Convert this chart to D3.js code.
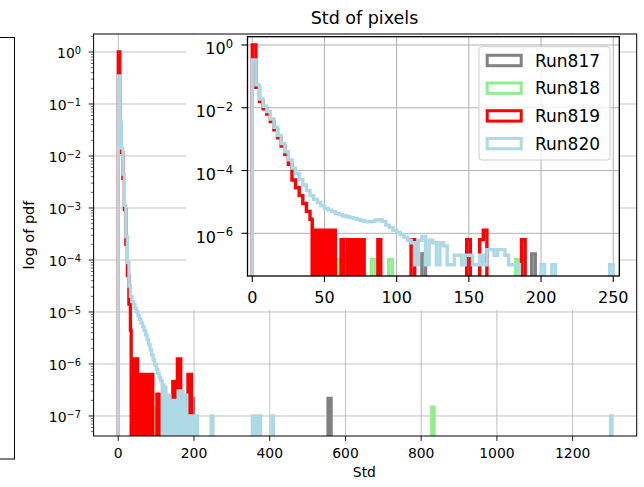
<!DOCTYPE html>
<html><head><meta charset="utf-8">
<script src="https://cdn.jsdelivr.net/npm/d3@7"></script>
<style>body{margin:0;background:#fff} text{font-family:"DejaVu Sans",sans-serif;fill:#000}</style>
</head><body><svg id="c" width="644" height="487"></svg>
<script>
// ---------------- data ----------------
const runNames  = ["Run817", "Run818", "Run819", "Run820"];
const runColors = ["#808080", "#90ee90", "#ff0000", "#add8e6"];

// histogram bins: [left edge, right edge, log10(pdf)] ; missing bins are empty
const main817 = [[195,199,-6.66],[554,562,-6.66]];
const main818 = [[92,96,-6.83],[828,834,-6.83]];
const main819 = [[0,4,0.0],[4,8,-1.42],[8,12,-1.93],[12,16,-2.43],[16,20,-3.03],[20,24,-3.7],[24,28,-4.3],[28,32,-4.85],[32,34,-5.35],
  [36,39,-5.9],[42,45,-5.9],[48,51,-5.9],[54,57,-6.2],[60,63,-6.2],[66,69,-6.2],[72,75,-6.2],[78,81,-6.2],[85,88,-6.2],[88,91,-6.2],
  [102,105,-6.58],[108,111,-6.58],[144,147,-6.34],[150,153,-6.34],[156,159,-5.9],[162,165,-5.9],[184,187,-6.2],[190,193,-6.2]];
const main820 = [[0,4,-0.46],[4,8,-1.35],[8,12,-1.85],[12,16,-2.35],[16,20,-2.95],[20,24,-3.55],[24,28,-4.05],[28,32,-4.5],
  [32,36,-4.7],[36,40,-4.8],[40,44,-4.86],[44,48,-4.93],[48,52,-5.0],[52,56,-5.07],[56,60,-5.14],[60,64,-5.21],[64,68,-5.28],
  [68,72,-5.36],[72,76,-5.44],[76,80,-5.53],[80,84,-5.63],[84,88,-5.73],[88,92,-5.83],[92,96,-5.92],[96,100,-6.01],
  [100,104,-6.1],[104,108,-6.18],[108,112,-6.26],[112,116,-6.32],
  [118,121,-6.4],[123,126,-6.45],[128,131,-7.0],[133,136,-6.6],[138,141,-7.0],[143,146,-6.7],[148,151,-7.0],[153,156,-6.7],
  [158,161,-6.52],[163,166,-6.52],[168,171,-6.52],[173,176,-6.6],[178,181,-6.6],[183,186,-7.0],[188,191,-7.0],[193,196,-7.0],
  [200,203,-7.0],[206,209,-7.0],[245,250,-7.0],[354,358,-7.0],[363,367,-7.0],[372,376,-7.0],[406,410,-7.0],[1300,1304,-7.0]];

const inset817 = [[63.5,66,-6.66],[117.5,120,-6.66],[193.5,196,-6.66]];
const inset818 = [[59,61.5,-6.83],[82.5,85,-6.83],[94.5,97,-6.83],[182.5,185,-6.83]];
const inset819 = [[0,2.5,0.0],[2.5,5,-1.35],[5,7.5,-1.8],[7.5,10,-2.03],[10,12.5,-2.2],[12.5,15,-2.44],[15,17.5,-2.7],
  [17.5,20,-2.96],[20,22.5,-3.22],[22.5,25,-3.48],[25,27.5,-3.8],[27.5,30,-4.3],[30,32.5,-4.55],[32.5,35,-4.8],[35,37.5,-5.05],
  [37.5,40,-5.3],[40,41.5,-5.55],
  [42,44,-5.9],[45.5,47.5,-5.9],[49,51,-5.9],[52.5,54.5,-5.9],[55.5,57.5,-5.9],
  [61.5,63.5,-6.2],[66,68,-6.2],[69,71,-6.2],[72,74,-6.2],[75.5,77.5,-6.2],[87,89,-6.2],[110,112.5,-6.2],
  [148.5,151,-6.2],[157.5,160,-6.2],[160,162.5,-5.9],[186.5,189,-6.2]];
const inset820 = [[0,2.5,-0.48],[2.5,5,-1.27],[5,7.5,-1.72],[7.5,10,-1.95],[10,12.5,-2.12],[12.5,15,-2.36],[15,17.5,-2.62],
  [17.5,20,-2.88],[20,22.5,-3.14],[22.5,25,-3.4],[25,27.5,-3.66],[27.5,30,-3.92],[30,32.5,-4.1],[32.5,35,-4.28],[35,37.5,-4.46],
  [37.5,40,-4.64],[40,42.5,-4.8],[42.5,45,-4.92],[45,47.5,-5.02],[47.5,50,-5.12],[50,52.5,-5.2],[52.5,55,-5.26],[55,57.5,-5.31],
  [57.5,60,-5.36],[60,62.5,-5.4],[62.5,65,-5.44],[65,67.5,-5.47],[67.5,70,-5.5],[70,72.5,-5.53],[72.5,75,-5.56],[75,77.5,-5.59],
  [77.5,80,-5.62],[80,82.5,-5.63],[82.5,85,-5.62],[85,87.5,-5.58],[87.5,90,-5.57],[90,92.5,-5.62],[92.5,95,-5.74],[95,97.5,-5.82],
  [97.5,100,-5.9],[100,102.5,-5.97],[102.5,105,-6.05],[105,107.5,-6.12],[107.5,110,-6.22],[110,112.5,-6.3],[112.5,115,-7.0],
  [115,117.5,-6.22],[117.5,120,-6.1],[120,122.5,-7.0],[122.5,125,-6.22],[125,127.5,-6.3],[127.5,130,-7.0],[130,132.5,-6.3],
  [132.5,135,-6.4],[135,137.5,-7.0],[137.5,140,-7.0],[140,142.5,-6.7],[142.5,145,-6.7],[145,147.5,-7.0],[147.5,150,-6.7],
  [150,152.5,-6.7],[152.5,155,-7.0],[155,157.5,-7.0],[157.5,160,-6.7],[160,162.5,-7.0],[162.5,165,-6.52],[165,167.5,-6.52],
  [167.5,170,-6.7],[170,172.5,-6.52],[172.5,175,-6.52],[175,177.5,-6.7],[177.5,180,-7.0],[180,182.5,-7.0],[182.5,185,-7.0],
  [200,202.5,-7.0],[207.5,210,-7.0],[247.5,250,-7.0]];

const mainXTicks  = [0, 200, 400, 600, 800, 1000, 1200];
const mainYExps   = [0, -1, -2, -3, -4, -5, -6, -7];
const insetXTicks = [0, 50, 100, 150, 200, 250];
const insetYExps  = [0, -2, -4, -6];
const titleText = "Std of pixels", xLabel = "Std", yLabel = "log of pdf";

const mainData  = [main817, main818, main819, main820];
const insetData = [inset817, inset818, inset819, inset820];

// ---------------- drawing ----------------
const svg = d3.select("#c");
const MINUS = "\u2212";
const gridC = "#b0b0b0";

function stepPath(bins, x, y, yBot) {
  let d = "", prev = null;
  bins.forEach(([l, r, e]) => {
    const yv = y(Math.pow(10, e));
    if (prev === null || Math.abs(l - prev) > 1e-9) {
      if (prev !== null) d += `L${x(prev)},${yBot}`;
      d += `M${x(l)},${yBot}L${x(l)},${yv}`;
    } else {
      d += `L${x(l)},${yv}`;
    }
    d += `L${x(r)},${yv}`;
    prev = r;
  });
  if (prev !== null) d += `L${x(prev)},${yBot}`;
  return d;
}
function supLabel(g, x, y, exp, size, supSize, shift, anchor) {
  const t = g.append("text").attr("x", x).attr("y", y).attr("text-anchor", anchor)
    .style("font-size", size + "px");
  t.append("tspan").text("10");
  t.append("tspan").attr("dy", -shift).style("font-size", supSize + "px")
    .text(exp === 0 ? "0" : MINUS + Math.abs(exp));
}

// far-left remnant frame
svg.append("rect").attr("x", -5).attr("y", 37.5).attr("width", 19.5).attr("height", 421.5)
  .attr("fill", "none").attr("stroke", "#000").attr("stroke-width", 1);

// ---- main axes ----
const M = {l: 93.6, r: 636.7, t: 34, b: 436};
const mx = d3.scaleLinear().domain([-65.2, 1369.2]).range([M.l, M.r]);
const my = d3.scaleLog().domain([Math.pow(10, -7.385), Math.pow(10, 0.346)]).range([M.b, M.t]);

const defs = svg.append("defs");
defs.append("clipPath").attr("id", "mclip").append("rect")
  .attr("x", M.l).attr("y", M.t).attr("width", M.r - M.l).attr("height", M.b - M.t);

const mg = svg.append("g");
mainXTicks.forEach(t => mg.append("line").attr("x1", mx(t)).attr("x2", mx(t)).attr("y1", M.t).attr("y2", M.b)
  .attr("stroke", gridC).attr("stroke-width", 0.8));
mainYExps.forEach(e => mg.append("line").attr("x1", M.l).attr("x2", M.r).attr("y1", my(Math.pow(10, e))).attr("y2", my(Math.pow(10, e)))
  .attr("stroke", gridC).attr("stroke-width", 0.8));

const mh = svg.append("g").attr("clip-path", "url(#mclip)");
mainData.forEach((bins, i) => mh.append("path").attr("d", stepPath(bins, mx, my, M.b + 20))
  .attr("fill", "none").attr("stroke", runColors[i]).attr("stroke-width", 3.3).attr("stroke-linejoin", "miter"));

svg.append("rect").attr("x", M.l).attr("y", M.t).attr("width", M.r - M.l).attr("height", M.b - M.t)
  .attr("fill", "none").attr("stroke", "#000").attr("stroke-width", 1);

const ma = svg.append("g");
mainXTicks.forEach(t => {
  ma.append("line").attr("x1", mx(t)).attr("x2", mx(t)).attr("y1", M.b).attr("y2", M.b + 4.9).attr("stroke", "#000").attr("stroke-width", 0.9);
  ma.append("text").attr("x", mx(t)).attr("y", 458.3).attr("text-anchor", "middle").style("font-size", "13.9px").text(t);
});
mainYExps.forEach(e => {
  const y = my(Math.pow(10, e));
  ma.append("line").attr("x1", M.l - 4.9).attr("x2", M.l).attr("y1", y).attr("y2", y).attr("stroke", "#000").attr("stroke-width", 0.9);
  supLabel(ma, 81, y + 6.3, e, 13.9, 9.8, 4.5, "end");
});
for (let k = -8; k <= 0; k++) {
  for (let m = 2; m <= 9; m++) {
    const v = m * Math.pow(10, k);
    const [d0, d1] = my.domain();
    if (v < d0 || v > d1) continue;
    ma.append("line").attr("x1", M.l - 2.8).attr("x2", M.l).attr("y1", my(v)).attr("y2", my(v))
      .attr("stroke", "#000").attr("stroke-width", 0.6);
  }
}
svg.append("text").attr("x", 364.5).attr("y", 24).attr("text-anchor", "middle").style("font-size", "17.5px").text(titleText);
svg.append("text").attr("x", mx(650)).attr("y", 477).attr("text-anchor", "middle").style("font-size", "13.9px").text(xLabel);
svg.append("text").attr("transform", `translate(33.5,${(M.t + M.b) / 2}) rotate(-90)`).attr("text-anchor", "middle")
  .style("font-size", "14.5px").text(yLabel);

// ---- inset ----
svg.append("rect").attr("x", 186).attr("y", 35).attr("width", 434).attr("height", 275).attr("fill", "#fff");

const I = {l: 247.5, r: 619.3, t: 36.7, b: 276};
const ix = d3.scaleLinear().domain([-3.3, 254.2]).range([I.l, I.r]);
const iy = d3.scaleLog().domain([Math.pow(10, -7.36), Math.pow(10, 0.264)]).range([I.b, I.t]);
defs.append("clipPath").attr("id", "iclip").append("rect")
  .attr("x", I.l).attr("y", I.t).attr("width", I.r - I.l).attr("height", I.b - I.t);

const ig = svg.append("g");
insetXTicks.forEach(t => ig.append("line").attr("x1", ix(t)).attr("x2", ix(t)).attr("y1", I.t).attr("y2", I.b)
  .attr("stroke", gridC).attr("stroke-width", 1));
insetYExps.forEach(e => ig.append("line").attr("x1", I.l).attr("x2", I.r).attr("y1", iy(Math.pow(10, e))).attr("y2", iy(Math.pow(10, e)))
  .attr("stroke", gridC).attr("stroke-width", 1));

const ih = svg.append("g").attr("clip-path", "url(#iclip)");
insetData.forEach((bins, i) => ih.append("path").attr("d", stepPath(bins, ix, iy, I.b + 20))
  .attr("fill", "none").attr("stroke", runColors[i]).attr("stroke-width", 3.4).attr("stroke-linejoin", "miter"));

svg.append("rect").attr("x", I.l).attr("y", I.t).attr("width", I.r - I.l).attr("height", I.b - I.t)
  .attr("fill", "none").attr("stroke", "#000").attr("stroke-width", 1.3);

const ia = svg.append("g");
insetXTicks.forEach(t => {
  ia.append("line").attr("x1", ix(t)).attr("x2", ix(t)).attr("y1", I.b).attr("y2", I.b + 6).attr("stroke", "#000").attr("stroke-width", 1.1);
  ia.append("text").attr("x", ix(t)).attr("y", 302.7).attr("text-anchor", "middle").style("font-size", "16px").text(t);
});
insetYExps.forEach(e => {
  const y = iy(Math.pow(10, e));
  ia.append("line").attr("x1", I.l - 6).attr("x2", I.l).attr("y1", y).attr("y2", y).attr("stroke", "#000").attr("stroke-width", 1.1);
  supLabel(ia, 233, y + 9.5, e, 16, 11.5, 6.5, "end");
});

// legend
const lg = svg.append("g");
lg.append("rect").attr("x", 479).attr("y", 46.7).attr("width", 131).attr("height", 113.3).attr("rx", 3)
  .attr("fill", "#fff").attr("fill-opacity", 0.8).attr("stroke", "#cccccc").attr("stroke-width", 1);
runNames.forEach((n, i) => {
  const cy = 60.5 + i * 27.7;
  lg.append("rect").attr("x", 487.2).attr("y", cy - 5.2).attr("width", 34).attr("height", 10.4)
    .attr("fill", "none").attr("stroke", runColors[i]).attr("stroke-width", 3);
  lg.append("text").attr("x", 535).attr("y", cy + 6).style("font-size", "17px").text(n);
});
</script>
</body></html>
